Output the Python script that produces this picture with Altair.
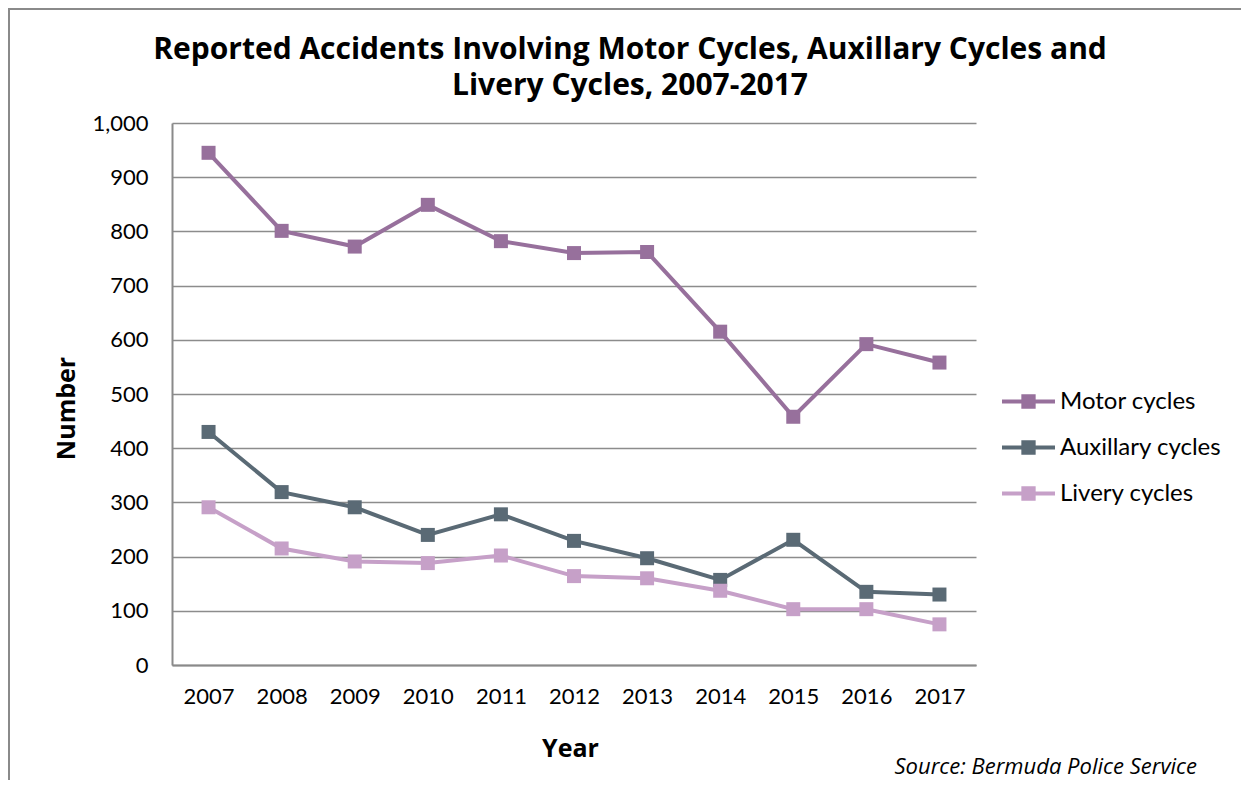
import altair as alt
import pandas as pd

years = ["2007", "2008", "2009", "2010", "2011", "2012", "2013", "2014", "2015", "2016", "2017"]
motor = [945, 801, 772, 849, 782, 760, 762, 615, 458, 592, 558]
auxillary = [430, 319, 291, 240, 278, 229, 197, 157, 231, 135, 130]
livery = [291, 215, 191, 188, 202, 164, 160, 137, 103, 103, 75]

series_names = ["Motor cycles", "Auxillary cycles", "Livery cycles"]
series_colors = ["#97709C", "#5A6A75", "#C6A0C8"]

rows = []
for name, vals in zip(series_names, [motor, auxillary, livery]):
    for y, v in zip(years, vals):
        rows.append({"Year": y, "Series": name, "Value": v})
df = pd.DataFrame(rows)

W, H = 804, 542
PL, PT = 164, 115
TOTAL_W, TOTAL_H = 1233, 772

FONT = "Lato"
BOLD_FONT = "Open Sans"

legend_path = ("M-1,-0.075 H1 V0.075 H-1 Z "
               "M-0.27,-0.27 H0.27 V0.27 H-0.27 Z")

x_enc = alt.X("Year:N", sort=years,
              axis=alt.Axis(title="Year", labelAngle=0, ticks=False, grid=False,
                            labelPadding=21, titleX=398, titleY=83,
                            titleBaseline="middle", titleAnchor="start", titleAlign="center"))
y_enc = alt.Y("Value:Q", scale=alt.Scale(domain=[0, 1000], nice=False),
              axis=alt.Axis(title="Number", values=list(range(0, 1001, 100)), format=",d",
                            ticks=False, labelPadding=24, titleX=-106, titleY=285,
                            titleBaseline="middle", titleAlign="center", titleAngle=-90))
color_scale = alt.Scale(domain=series_names, range=series_colors)
# same mapping, listed in reverse so the (hidden) line legend is not merged with the shown one
stroke_scale = alt.Scale(domain=series_names[::-1], range=series_colors[::-1])

base = alt.Chart(df)

lines = base.mark_line(strokeWidth=4).encode(
    x=x_enc, y=y_enc,
    stroke=alt.Stroke("Series:N", scale=stroke_scale, legend=None),
)
points = base.mark_point(shape="square", filled=True, size=196, opacity=1).encode(
    x=x_enc, y=y_enc,
    color=alt.Color("Series:N", scale=color_scale, sort=series_names,
                    legend=alt.Legend(title=None, orient="none", legendX=830, legendY=252,
                                      symbolType=legend_path, symbolSize=2809,
                                      symbolStrokeWidth=0, symbolOpacity=1,
                                      labelFont=FONT, labelFontSize=24,
                                      labelColor="black", labelOffset=5, rowPadding=7,
                                      labelLimit=300)),
)

one = pd.DataFrame({"t": ["Source: Bermuda Police Service"]})
source = alt.Chart(one).mark_text(align="right", baseline="alphabetic", font=BOLD_FONT,
                                  fontStyle="italic", fontSize=22, color="black").encode(
    text="t:N", x=alt.value(1025), y=alt.value(651))

border_left = alt.Chart(one).mark_rule(color="#8a8a8a", strokeWidth=2).encode(
    x=alt.value(-163), y=alt.value(-114), y2=alt.value(TOTAL_H - PT))
border_top = alt.Chart(one).mark_rule(color="#8a8a8a", strokeWidth=2).encode(
    x=alt.value(-164), x2=alt.value(TOTAL_W - PL), y=alt.value(-114))

chart = alt.layer(lines, points, source, border_left, border_top).properties(
    width=W, height=H,
    autosize=alt.AutoSizeParams(type="none"),
    padding={"left": PL, "top": PT, "right": TOTAL_W - PL - W, "bottom": TOTAL_H - PT - H},
    title=alt.TitleParams(
        text=["Reported Accidents Involving Motor Cycles, Auxillary Cycles and",
              "Livery Cycles, 2007-2017"],
        font=BOLD_FONT, fontSize=30, fontWeight="bold", color="black",
        anchor="middle", frame="group", dx=56, lineHeight=36, offset=-93),
).configure_view(stroke=None).configure_axis(
    domainColor="#8a8a8a", domainWidth=2, gridColor="#8c8c8c", gridWidth=1.5,
    labelFont=FONT, labelFontSize=22, labelColor="black",
    titleFont=BOLD_FONT, titleFontSize=25, titleFontWeight="bold", titleColor="black",
)

chart.save("out.html", embed_options={"renderer": "svg", "actions": False})
